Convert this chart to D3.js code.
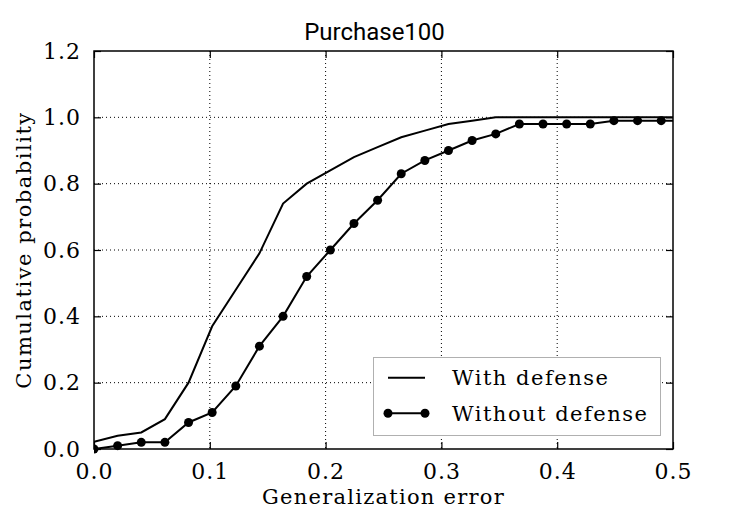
<!DOCTYPE html>
<html><head><meta charset="utf-8">
<script src="https://cdn.jsdelivr.net/npm/d3@7"></script>
<style>
body{margin:0;background:#fff;}
svg{display:block;}
</style></head>
<body><svg id="c" width="747" height="514"></svg>
<script>
const title = "Purchase100";
const xLabel = "Generalization error";
const yLabel = "Cumulative probability";
const seriesNames = ["With defense", "Without defense"];
// x positions in units of i/49
const stepIndex = [0,1,2,3,4,5,6,7,8,9,10,11,12,13,14,15,16,17,18,19,20,21,22,23,24,25];
const withDefense = [0.022,0.04,0.05,0.09,0.20,0.37,0.48,0.59,0.74,0.80,0.84,0.88,0.91,0.94,0.96,0.98,0.99,1.0,1.0,1.0,1.0,1.0,1.0,1.0,1.0,1.0];
const withoutDefense = [0.0,0.01,0.02,0.02,0.08,0.11,0.19,0.31,0.40,0.52,0.60,0.68,0.75,0.83,0.87,0.90,0.93,0.95,0.98,0.98,0.98,0.98,0.99,0.99,0.99,0.99];
const xTicks = [0,0.1,0.2,0.3,0.4,0.5];
const yTicks = [0,0.2,0.4,0.6,0.8,1.0,1.2];

const svg = d3.select("#c");
const L=94, R=673, T=51, B=449;
const x = d3.scaleLinear().domain([0,0.5]).range([L,R]);
const y = d3.scaleLinear().domain([0,1.2]).range([B,T]);
const xs = stepIndex.map(i=>i/49);

svg.append("clipPath").attr("id","clip").append("rect")
  .attr("x",L).attr("y",T-10).attr("width",R-L).attr("height",B-T+20);

// grid
const grid = svg.append("g");
xTicks.slice(1,-1).forEach(t=>grid.append("line").attr("x1",x(t)).attr("x2",x(t)).attr("y1",T).attr("y2",B)
  .attr("stroke","#000").attr("stroke-width",1).attr("stroke-dasharray","1,3"));
yTicks.slice(1,-1).forEach(t=>grid.append("line").attr("y1",y(t)).attr("y2",y(t)).attr("x1",L).attr("x2",R)
  .attr("stroke","#000").attr("stroke-width",1).attr("stroke-dasharray","1,3"));

// axes with inward ticks
const fmt = d3.format(".1f");
const tickFont = "DejaVu Serif";
const gx = svg.append("g").attr("transform",`translate(0,${B})`)
  .call(d3.axisBottom(x).tickValues(xTicks).tickFormat(fmt).tickSizeInner(-7).tickSizeOuter(0).tickPadding(14));
const gxt = svg.append("g").attr("transform",`translate(0,${T})`)
  .call(d3.axisTop(x).tickValues(xTicks).tickFormat("").tickSizeInner(-7).tickSizeOuter(0));
const gy = svg.append("g").attr("transform",`translate(${L},0)`)
  .call(d3.axisLeft(y).tickValues(yTicks).tickFormat(fmt).tickSizeInner(-7).tickSizeOuter(0).tickPadding(13));
const gyr = svg.append("g").attr("transform",`translate(${R},0)`)
  .call(d3.axisRight(y).tickValues(yTicks).tickFormat("").tickSizeInner(-7).tickSizeOuter(0));
[gx,gxt,gy,gyr].forEach(g=>{
  g.select(".domain").remove();
  g.selectAll("line").attr("stroke","#000").attr("stroke-width",1.2);
  g.selectAll("text").attr("font-family",tickFont).attr("font-size",22).attr("fill","#000")
    .attr("letter-spacing","1px");
});
gx.selectAll("text").attr("dy","0.71em");

// lines
const line = d3.line().x(d=>x(d[0])).y(d=>y(d[1]));
const plot = svg.append("g").attr("clip-path","url(#clip)");
plot.append("path").datum(xs.map((v,i)=>[v,withDefense[i]]))
  .attr("d",line).attr("fill","none").attr("stroke","#000").attr("stroke-width",2);
plot.append("path").datum(xs.map((v,i)=>[v,withoutDefense[i]]))
  .attr("d",line).attr("fill","none").attr("stroke","#000").attr("stroke-width",2);
plot.selectAll("circle").data(xs.map((v,i)=>[v,withoutDefense[i]])).enter().append("circle")
  .attr("cx",d=>x(d[0])).attr("cy",d=>y(d[1])).attr("r",4.5).attr("fill","#000");

// frame
svg.append("rect").attr("x",L).attr("y",T).attr("width",R-L).attr("height",B-T)
  .attr("fill","none").attr("stroke","#000").attr("stroke-width",1.5);

// title
svg.append("text").attr("x",374.5).attr("y",40).attr("text-anchor","middle")
  .attr("font-family","Roboto").attr("font-size",24).text(title);
// x label
svg.append("text").attr("x",(L+R)/2).attr("y",504).attr("text-anchor","middle")
  .attr("font-family",tickFont).attr("font-size",21).attr("letter-spacing","1.25px").text(xLabel);
// y label
svg.append("text").attr("transform",`translate(31,${(T+B)/2}) rotate(-90)`).attr("text-anchor","middle")
  .attr("font-family",tickFont).attr("font-size",21).attr("letter-spacing","1.5px").text(yLabel);

// legend
const lg = svg.append("g");
lg.append("rect").attr("x",373.5).attr("y",357.5).attr("width",287).attr("height",78)
  .attr("fill","#fff").attr("stroke","#b0b0b0").attr("stroke-width",1);
const rows=[377.7,413.3];
lg.append("line").attr("x1",388).attr("x2",425).attr("y1",rows[0]).attr("y2",rows[0]).attr("stroke","#000").attr("stroke-width",2);
lg.append("line").attr("x1",388).attr("x2",425).attr("y1",rows[1]).attr("y2",rows[1]).attr("stroke","#000").attr("stroke-width",2);
[388,425].forEach(cx=>lg.append("circle").attr("cx",cx).attr("cy",rows[1]).attr("r",4.5).attr("fill","#000"));
seriesNames.forEach((n,i)=>lg.append("text").attr("x",452).attr("y",rows[i]).attr("dy","0.35em")
  .attr("font-family",tickFont).attr("font-size",21).attr("letter-spacing","1.5px").text(n));
</script></body></html>
